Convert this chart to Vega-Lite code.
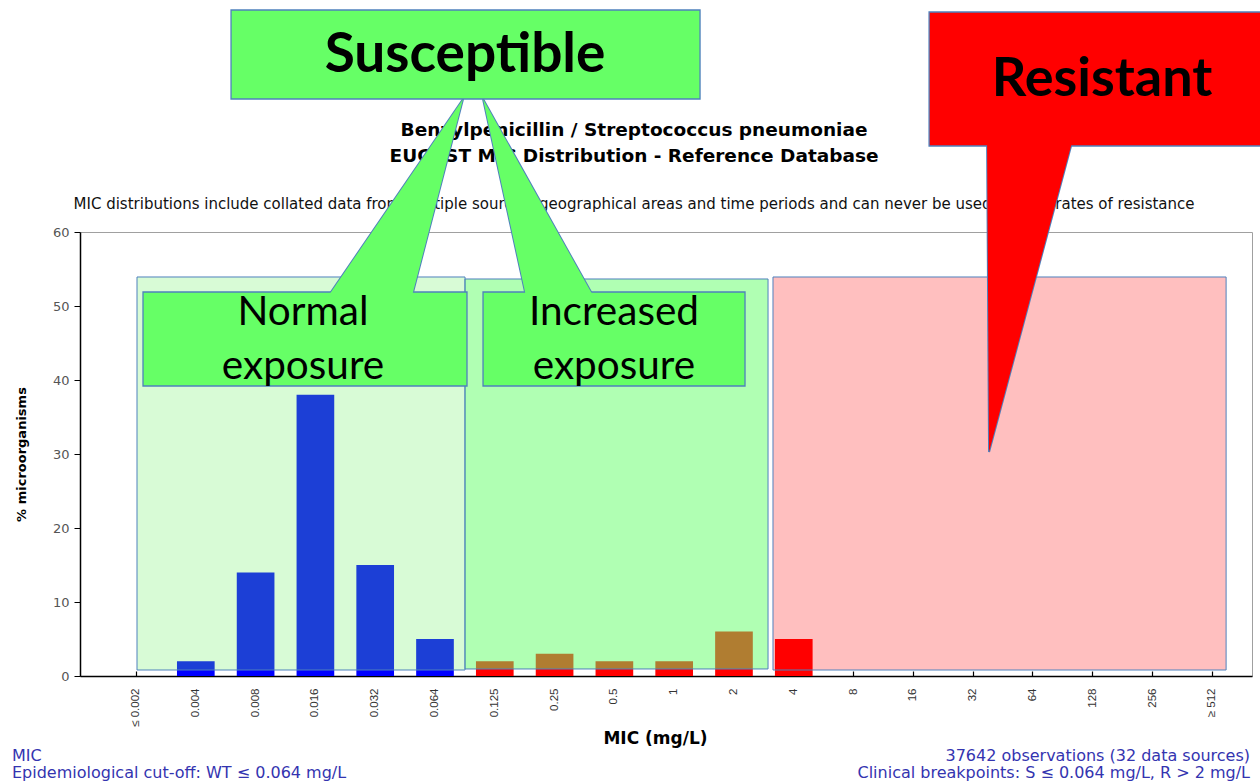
{
  "$schema": "https://vega.github.io/schema/vega-lite/v6.json",
  "width": 1172,
  "height": 444,
  "autosize": {"type": "none"},
  "padding": {"left": 80, "top": 232, "right": 8, "bottom": 107},
  "background": "white",
  "datasets": {
    "mic": [
      {"mic": "≤ 0.002", "pct": 0, "group": "WT"},
      {"mic": "0.004", "pct": 2, "group": "WT"},
      {"mic": "0.008", "pct": 14, "group": "WT"},
      {"mic": "0.016", "pct": 38, "group": "WT"},
      {"mic": "0.032", "pct": 15, "group": "WT"},
      {"mic": "0.064", "pct": 5, "group": "WT"},
      {"mic": "0.125", "pct": 2, "group": "non-WT"},
      {"mic": "0.25", "pct": 3, "group": "non-WT"},
      {"mic": "0.5", "pct": 2, "group": "non-WT"},
      {"mic": "1", "pct": 2, "group": "non-WT"},
      {"mic": "2", "pct": 6, "group": "non-WT"},
      {"mic": "4", "pct": 5, "group": "non-WT"},
      {"mic": "8", "pct": 0, "group": "non-WT"},
      {"mic": "16", "pct": 0, "group": "non-WT"},
      {"mic": "32", "pct": 0, "group": "non-WT"},
      {"mic": "64", "pct": 0, "group": "non-WT"},
      {"mic": "128", "pct": 0, "group": "non-WT"},
      {"mic": "256", "pct": 0, "group": "non-WT"},
      {"mic": "≥ 512", "pct": 0, "group": "non-WT"}
    ],
    "pointers": [
      {"pointer": "normal", "level": 77.97, "left": 5.469, "right": 5.469},
      {"pointer": "normal", "level": 51.35, "left": 3.216, "right": 4.616},
      {"pointer": "increased", "level": 77.97, "left": 5.803, "right": 5.803},
      {"pointer": "increased", "level": 51.35, "left": 6.52, "right": 7.646},
      {"pointer": "resistant", "level": 72.16, "left": 14.232, "right": 15.654},
      {"pointer": "resistant", "level": 30.27, "left": 14.265, "right": 14.265}
    ]
  },
  "resolve": {"scale": {"x": "independent"}, "axis": {"x": "independent"}},
  "layer": [
    {
      "data": {"name": "mic"},
      "mark": {"type": "bar"},
      "encoding": {
        "x": {
          "field": "mic", "type": "nominal", "sort": null,
          "scale": {"paddingInner": 0.37, "paddingOuter": 0.485, "align": 0.641, "round": false},
          "axis": {"title": "MIC (mg/L)"}
        },
        "y": {
          "field": "pct", "type": "quantitative",
          "scale": {"domain": [0, 60], "nice": false},
          "axis": {"title": "% microorganisms", "values": [0, 10, 20, 30, 40, 50, 60]}
        },
        "color": {
          "field": "group", "type": "nominal",
          "scale": {"domain": ["WT", "non-WT"], "range": ["#0000ff", "#ff0000"]},
          "legend": null
        }
      }
    },
    {
      "data": {"values": [{}]},
      "layer": [
        {
          "mark": {"type": "rect", "fill": "#6af063", "fillOpacity": 0.263, "stroke": "#4f81bd", "strokeWidth": 1},
          "encoding": {
            "x": {"datum": 0.0167, "type": "quantitative", "scale": {"domain": [-0.9365, 18.662], "nice": false, "zero": false}, "axis": null},
            "x2": {"datum": 5.502},
            "y": {"datum": 53.92, "type": "quantitative", "scale": {"domain": [0, 60], "nice": false}},
            "y2": {"datum": 0.81}
          }
        },
        {
          "mark": {"type": "rect", "fill": "#5eff64", "fillOpacity": 0.49, "stroke": "#4f81bd", "strokeWidth": 1},
          "encoding": {
            "x": {"datum": 5.502, "type": "quantitative", "scale": {"domain": [-0.9365, 18.662], "nice": false, "zero": false}, "axis": null},
            "x2": {"datum": 10.569},
            "y": {"datum": 53.65, "type": "quantitative", "scale": {"domain": [0, 60], "nice": false}},
            "y2": {"datum": 0.95}
          }
        },
        {
          "mark": {"type": "rect", "fill": "#ff0000", "fillOpacity": 0.25, "stroke": "#4f81bd", "strokeWidth": 1},
          "encoding": {
            "x": {"datum": 10.652, "type": "quantitative", "scale": {"domain": [-0.9365, 18.662], "nice": false, "zero": false}, "axis": null},
            "x2": {"datum": 18.229},
            "y": {"datum": 53.92, "type": "quantitative", "scale": {"domain": [0, 60], "nice": false}},
            "y2": {"datum": 0.81}
          }
        },
        {
          "mark": {"type": "text", "text": ["Benzylpenicillin / Streptococcus pneumoniae", "EUCAST MIC Distribution - Reference Database"], "font": "DejaVu Sans", "fontWeight": "bold", "fontSize": 18.5, "lineHeight": 26, "align": "center", "baseline": "middle", "color": "#000000"},
          "encoding": {
            "x": {"datum": 8.328, "type": "quantitative", "scale": {"domain": [-0.9365, 18.662], "nice": false, "zero": false}, "axis": null},
            "y": {"datum": 73.78, "type": "quantitative", "scale": {"domain": [0, 60], "nice": false}}
          }
        },
        {
          "mark": {"type": "text", "text": "MIC distributions include collated data from multiple sources, geographical areas and time periods and can never be used to infer rates of resistance", "font": "DejaVu Sans", "fontSize": 15, "align": "center", "baseline": "middle", "color": "#111111"},
          "encoding": {
            "x": {"datum": 8.328, "type": "quantitative", "scale": {"domain": [-0.9365, 18.662], "nice": false, "zero": false}, "axis": null},
            "y": {"datum": 63.78, "type": "quantitative", "scale": {"domain": [0, 60], "nice": false}}
          }
        },
        {
          "data": {"name": "pointers"},
          "transform": [{"filter": "datum.pointer !== 'resistant'"}],
          "mark": {"type": "area", "orient": "horizontal", "fill": "#66ff66", "stroke": "#4f81bd", "strokeWidth": 2},
          "encoding": {
            "y": {"field": "level", "type": "quantitative", "scale": {"domain": [0, 60], "nice": false}},
            "x": {"field": "left", "type": "quantitative", "stack": null, "scale": {"domain": [-0.9365, 18.662], "nice": false, "zero": false}, "axis": null},
            "x2": {"field": "right"},
            "detail": {"field": "pointer", "type": "nominal"}
          }
        },
        {
          "mark": {"type": "rect", "fill": "#66ff66", "stroke": "#4f81bd", "strokeWidth": 1.3},
          "encoding": {
            "x": {"datum": 0.117, "type": "quantitative", "scale": {"domain": [-0.9365, 18.662], "nice": false, "zero": false}, "axis": null},
            "x2": {"datum": 5.535},
            "y": {"datum": 51.89, "type": "quantitative", "scale": {"domain": [0, 60], "nice": false}},
            "y2": {"datum": 39.19}
          }
        },
        {
          "mark": {"type": "rect", "fill": "#66ff66", "stroke": "#4f81bd", "strokeWidth": 1.3},
          "encoding": {
            "x": {"datum": 5.803, "type": "quantitative", "scale": {"domain": [-0.9365, 18.662], "nice": false, "zero": false}, "axis": null},
            "x2": {"datum": 10.184},
            "y": {"datum": 51.89, "type": "quantitative", "scale": {"domain": [0, 60], "nice": false}},
            "y2": {"datum": 39.19}
          }
        },
        {
          "data": {"name": "pointers"},
          "transform": [{"filter": "datum.pointer !== 'resistant'"}],
          "mark": {"type": "area", "orient": "horizontal", "fill": "#66ff66"},
          "encoding": {
            "y": {"field": "level", "type": "quantitative", "scale": {"domain": [0, 60], "nice": false}},
            "x": {"field": "left", "type": "quantitative", "stack": null, "scale": {"domain": [-0.9365, 18.662], "nice": false, "zero": false}, "axis": null},
            "x2": {"field": "right"},
            "detail": {"field": "pointer", "type": "nominal"}
          }
        },
        {
          "mark": {"type": "rect", "fill": "#66ff66", "stroke": "#4f81bd", "strokeWidth": 1.3},
          "encoding": {
            "x": {"datum": 1.589, "type": "quantitative", "scale": {"domain": [-0.9365, 18.662], "nice": false, "zero": false}, "axis": null},
            "x2": {"datum": 9.432},
            "y": {"datum": 90.0, "type": "quantitative", "scale": {"domain": [0, 60], "nice": false}},
            "y2": {"datum": 77.97}
          }
        },
        {
          "data": {"name": "pointers"},
          "transform": [{"filter": "datum.pointer === 'resistant'"}],
          "mark": {"type": "area", "orient": "horizontal", "fill": "#ff0000", "stroke": "#4f81bd", "strokeWidth": 2},
          "encoding": {
            "y": {"field": "level", "type": "quantitative", "scale": {"domain": [0, 60], "nice": false}},
            "x": {"field": "left", "type": "quantitative", "stack": null, "scale": {"domain": [-0.9365, 18.662], "nice": false, "zero": false}, "axis": null},
            "x2": {"field": "right"}
          }
        },
        {
          "mark": {"type": "rect", "fill": "#ff0000", "stroke": "#4f81bd", "strokeWidth": 1.3},
          "encoding": {
            "x": {"datum": 13.262, "type": "quantitative", "scale": {"domain": [-0.9365, 18.662], "nice": false, "zero": false}, "axis": null},
            "x2": {"datum": 18.88},
            "y": {"datum": 89.73, "type": "quantitative", "scale": {"domain": [0, 60], "nice": false}},
            "y2": {"datum": 71.62}
          }
        },
        {
          "data": {"name": "pointers"},
          "transform": [{"filter": "datum.pointer === 'resistant'"}],
          "mark": {"type": "area", "orient": "horizontal", "fill": "#ff0000"},
          "encoding": {
            "y": {"field": "level", "type": "quantitative", "scale": {"domain": [0, 60], "nice": false}},
            "x": {"field": "left", "type": "quantitative", "stack": null, "scale": {"domain": [-0.9365, 18.662], "nice": false, "zero": false}, "axis": null},
            "x2": {"field": "right"}
          }
        },
        {
          "mark": {"type": "text", "text": "Susceptible", "font": "Lato", "fontWeight": "bold", "fontSize": 55, "align": "center", "baseline": "middle", "color": "#000000"},
          "encoding": {
            "x": {"datum": 5.502, "type": "quantitative", "scale": {"domain": [-0.9365, 18.662], "nice": false, "zero": false}, "axis": null},
            "y": {"datum": 83.92, "type": "quantitative", "scale": {"domain": [0, 60], "nice": false}}
          }
        },
        {
          "mark": {"type": "text", "text": "Resistant", "font": "Lato", "fontWeight": "bold", "fontSize": 54, "align": "center", "baseline": "middle", "color": "#000000"},
          "encoding": {
            "x": {"datum": 16.154, "type": "quantitative", "scale": {"domain": [-0.9365, 18.662], "nice": false, "zero": false}, "axis": null},
            "y": {"datum": 80.54, "type": "quantitative", "scale": {"domain": [0, 60], "nice": false}}
          }
        },
        {
          "mark": {"type": "text", "text": ["Normal", "exposure"], "font": "Lato", "fontSize": 40.5, "lineHeight": 54, "align": "center", "baseline": "middle", "color": "#000000"},
          "encoding": {
            "x": {"datum": 2.793, "type": "quantitative", "scale": {"domain": [-0.9365, 18.662], "nice": false, "zero": false}, "axis": null},
            "y": {"datum": 49.05, "type": "quantitative", "scale": {"domain": [0, 60], "nice": false}}
          }
        },
        {
          "mark": {"type": "text", "text": ["Increased", "exposure"], "font": "Lato", "fontSize": 40.5, "lineHeight": 54, "align": "center", "baseline": "middle", "color": "#000000"},
          "encoding": {
            "x": {"datum": 7.993, "type": "quantitative", "scale": {"domain": [-0.9365, 18.662], "nice": false, "zero": false}, "axis": null},
            "y": {"datum": 49.05, "type": "quantitative", "scale": {"domain": [0, 60], "nice": false}}
          }
        },
        {
          "mark": {"type": "text", "text": ["MIC", "Epidemiological cut-off: WT ≤ 0.064 mg/L"], "font": "DejaVu Sans", "fontSize": 16, "lineHeight": 17, "align": "left", "baseline": "middle", "color": "#3434b0"},
          "encoding": {
            "x": {"datum": -2.074, "type": "quantitative", "scale": {"domain": [-0.9365, 18.662], "nice": false, "zero": false}, "axis": null},
            "y": {"datum": -10.81, "type": "quantitative", "scale": {"domain": [0, 60], "nice": false}}
          }
        },
        {
          "mark": {"type": "text", "text": ["37642 observations (32 data sources)", "Clinical breakpoints: S ≤ 0.064 mg/L, R > 2 mg/L"], "font": "DejaVu Sans", "fontSize": 16, "lineHeight": 17, "align": "right", "baseline": "middle", "color": "#3434b0"},
          "encoding": {
            "x": {"datum": 18.629, "type": "quantitative", "scale": {"domain": [-0.9365, 18.662], "nice": false, "zero": false}, "axis": null},
            "y": {"datum": -10.81, "type": "quantitative", "scale": {"domain": [0, 60], "nice": false}}
          }
        }
      ]
    }
  ],
  "config": {
    "view": {"stroke": "#a0a0a0", "strokeWidth": 1},
    "axis": {"grid": false, "domainColor": "#000000", "domainWidth": 1.5, "tickColor": "#000000", "labelColor": "#333333", "titleColor": "#000000"},
    "axisX": {"labelAngle": -90, "labelFont": "Liberation Sans", "labelFontSize": 11.5, "tickSize": -5, "tickWidth": 1.2, "labelPadding": 17, "labelOverlap": false, "titleFont": "DejaVu Sans", "titleFontSize": 17, "titleFontWeight": "bold", "titleX": 575, "titleY": 62, "titleBaseline": "middle", "zindex": 1},
    "axisY": {"labelFont": "DejaVu Sans", "labelFontSize": 13, "labelColor": "#555555", "tickSize": 6, "labelPadding": 5, "titleFont": "DejaVu Sans", "titleFontSize": 13, "titleFontWeight": "bold", "titlePadding": 24, "labelFlush": false}
  }
}
